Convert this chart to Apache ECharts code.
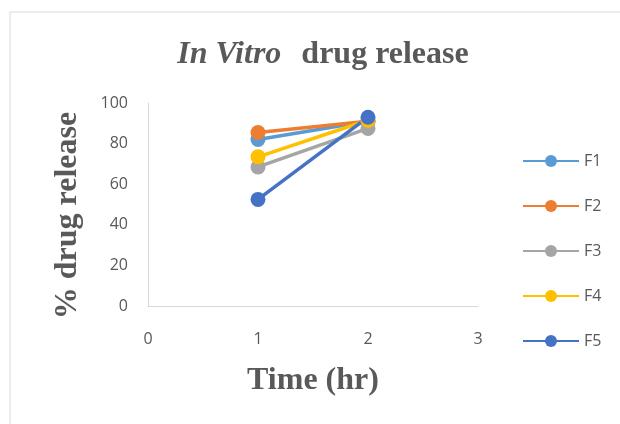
<!DOCTYPE html>
<html><head><meta charset="utf-8">
<script src="https://cdn.jsdelivr.net/npm/echarts@6/dist/echarts.min.js"></script>
<style>html,body{margin:0;padding:0;background:#fff}#c{width:620px;height:424px}</style>
</head><body><div id="c"></div>
<script>
var times = [1, 2];
var seriesNames = ['F1', 'F2', 'F3', 'F4', 'F5'];
var F1 = [82, 91];
var F2 = [85.5, 91];
var F3 = [68.5, 87.5];
var F4 = [73.5, 91.5];
var F5 = [52.5, 93];
var xTicks = [0, 1, 2, 3];
var yTicks = [0, 20, 40, 60, 80, 100];
var colors = ['#5B9BD5', '#ED7D31', '#A5A5A5', '#FFC000', '#4472C4'];
var values = [F1, F2, F3, F4, F5];

var chart = echarts.init(document.getElementById('c'), null, {renderer: 'canvas'});
var series = seriesNames.map(function (n, i) {
  return {
    name: n, type: 'line',
    data: times.map(function (t, j) { return [t, values[i][j]]; }),
    symbol: 'circle', symbolSize: 15,
    lineStyle: {width: 3.5, color: colors[i]},
    itemStyle: {color: colors[i]},
    emphasis: {disabled: true}
  };
});
chart.setOption({
  animation: false,
  graphic: [{type: 'rect', shape: {x: 10, y: 12, width: 640, height: 440},
    style: {fill: 'none', stroke: '#d9d9d9', lineWidth: 1}, silent: true}],
  title: {
    text: '{i|In Vitro}{s| }{b|drug release}',
    left: 318, textAlign: 'center', top: 34,
    textStyle: {
      rich: {
        i: {fontFamily: 'Liberation Serif', fontStyle: 'italic', fontSize: 32, color: '#595959'},
        s: {fontFamily: 'Liberation Serif', fontSize: 32, width: 20},
        b: {fontFamily: 'Liberation Serif', fontWeight: 'bold', fontSize: 32, color: '#595959'}
      }
    }
  },
  legend: {
    orient: 'vertical', left: 517, top: 148, itemGap: 29,
    itemWidth: 56, itemHeight: 15,
    textStyle: {fontFamily: 'Open Sans', fontSize: 16, color: '#595959', padding: [0,0,0,0]},
    data: seriesNames
  },
  grid: {left: 148, right: 142, top: 103, bottom: 118},
  xAxis: {
    type: 'value', min: 0, max: 3, interval: 1,
    name: 'Time (hr)', nameLocation: 'middle', nameGap: 59,
    nameTextStyle: {fontFamily: 'Liberation Serif', fontWeight: 'bold', fontSize: 32, color: '#595959'},
    axisLine: {show: true, lineStyle: {color: '#d9d9d9', width: 1}},
    axisTick: {show: false}, splitLine: {show: false},
    axisLabel: {fontFamily: 'Open Sans', fontSize: 16, color: '#595959', margin: 25}
  },
  yAxis: {
    type: 'value', min: 0, max: 100, interval: 20,
    name: '% drug release', nameLocation: 'middle', nameGap: 64,
    nameTextStyle: {fontFamily: 'Liberation Serif', fontWeight: 'bold', fontSize: 32, color: '#595959', padding: [0, 22, 0, 0]},
    axisLine: {show: true, lineStyle: {color: '#d9d9d9', width: 1}},
    axisTick: {show: false}, splitLine: {show: false},
    axisLabel: {fontFamily: 'Open Sans', fontSize: 16, color: '#595959', margin: 20}
  },
  series: series
});
</script></body></html>
